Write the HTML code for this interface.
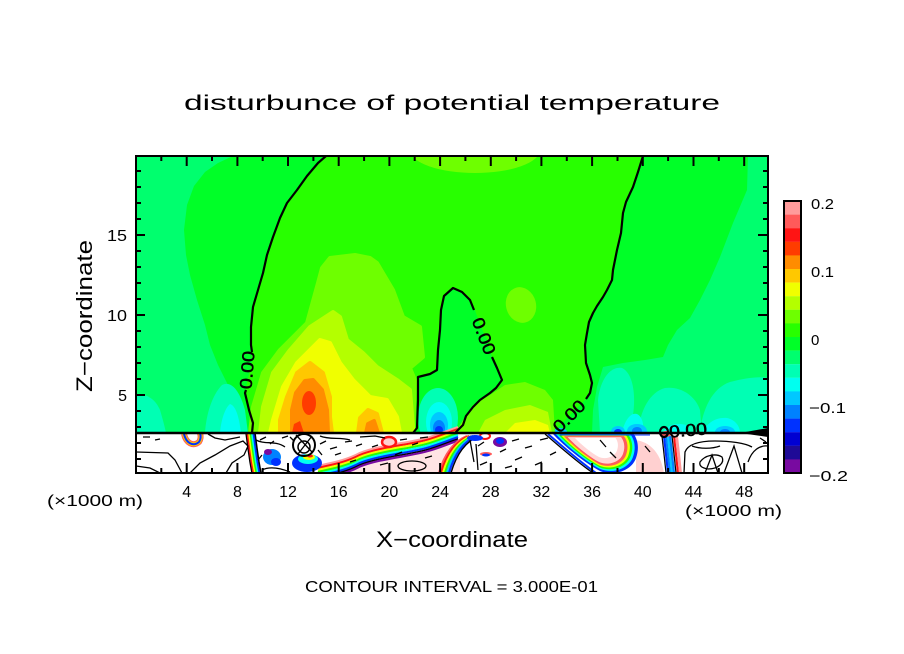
<!DOCTYPE html>
<html><head><meta charset="utf-8"><style>
html,body{margin:0;padding:0;background:#fff;}
svg{display:block;}
text{font-family:"Liberation Sans",sans-serif;fill:#000;}
</style></head><body>
<svg width="904" height="654" viewBox="0 0 904 654" xmlns="http://www.w3.org/2000/svg">
<rect width="904" height="654" fill="#fff"/>
<defs><clipPath id="pc"><rect x="136" y="156" width="632" height="317"/></clipPath></defs>
<g clip-path="url(#pc)">
<!-- base positive -->
<rect x="136" y="156" width="632" height="277" fill="#28FF00"/>
<!-- left negative -->
<path fill="#00FF28" d="M136,156 L326,156 L318,163 L307,176 L297,190 L287,203 L280,218 L273,237 L267,255 L263,273 L258,290 L253,307 L251,327 L251,345 L252,363 L248,378 L245,393 L249,410 L253,423 L252,433 L136,433 Z"/>
<path fill="#00FF6E" d="M136,156 L233,156 L218,163 L205,172 L194,186 L187,205 L184,230 L186,255 L190,275 L197,300 L205,325 L210,345 L218,365 L228,385 L238,405 L244,420 L246,433 L136,433 Z"/>
<path fill="#00FFB4" d="M136,395 C145,393 155,398 160,410 C163,420 165,428 166,433 L136,433 Z"/>
<path fill="#00FFB4" d="M205,433 C206,415 212,395 222,385 C232,380 240,392 245,410 L248,433 Z"/>
<path fill="#00FFF0" d="M220,433 C221,420 225,408 230,404 C236,406 239,417 241,433 Z"/>
<!-- right negative -->
<path fill="#00FF28" d="M643,156 L638,172 L633,187 L626,202 L623,213 L621,233 L617,250 L613,270 L612,280 L607,290 L603,297 L597,306 L593,313 L589,322 L587,333 L585,345 L586,363 L590,375 L592,383 L590,393 L584,401 L570,415 L560,425 L553,433 L768,433 L768,156 Z"/>
<path fill="#00FF6E" d="M748,156 L747,190 L733,223 L720,257 L710,280 L700,300 L690,318 L677,330 L668,345 L663,357 L645,360 L623,363 L603,367 L597,387 L593,410 L592,433 L768,433 L768,156 Z"/>
<path fill="#00FFB4" d="M600,433 L598,400 C600,380 610,366 622,368 C633,373 636,395 633,415 L630,433 Z"/>
<path fill="#00FFB4" d="M638,433 C640,410 650,392 665,388 C680,386 695,395 700,410 L702,433 Z"/>
<path fill="#00FFB4" d="M700,433 C702,410 712,388 730,382 C745,378 760,376 768,378 L768,433 Z"/>
<path fill="#00FFF0" d="M622,433 C624,422 630,412 637,414 C643,417 644,426 643,433 Z"/>
<path fill="#00FFF0" d="M702,433 C706,424 715,417 727,418 C736,420 740,427 740,433 Z"/>
<path fill="#00FFF0" d="M662,433 C666,426 675,422 686,425 L688,433 Z"/>
<ellipse cx="618" cy="432" rx="7" ry="6" fill="#00C8FF"/>
<ellipse cx="637" cy="431" rx="10" ry="7" fill="#00C8FF"/>
<ellipse cx="725" cy="432" rx="10" ry="6" fill="#00C8FF"/>
<ellipse cx="618" cy="432" rx="4" ry="3" fill="#0032FF"/>
<ellipse cx="637" cy="431" rx="5" ry="4" fill="#0082FF"/>
<ellipse cx="725" cy="432" rx="5" ry="3" fill="#0082FF"/>
<ellipse cx="560" cy="432" rx="7" ry="4" fill="#00C8FF"/>
<!-- loop negative -->
<path fill="#00FF28" d="M413,433 L417,428 L418,400 L418,377 L430,374 L437,370 L438,350 L440,330 L441,310 L444,296 L453,288 L462,292 L470,300 L475,310 L480,325 L487,340 L492,357 L497,368 L502,380 L496,388 L490,393 L480,400 L473,407 L466,416 L463,425 L455,433 Z"/>
<ellipse cx="438" cy="418" rx="20" ry="30" fill="#00FFB4"/>
<ellipse cx="439" cy="422" rx="13" ry="20" fill="#00FFF0"/>
<ellipse cx="439" cy="425" rx="9" ry="13" fill="#00C8FF"/>
<ellipse cx="439" cy="428" rx="6" ry="8" fill="#0082FF"/>
<ellipse cx="439" cy="430" rx="4" ry="4" fill="#0032FF"/>
<!-- positive features -->
<ellipse cx="475" cy="150" rx="65" ry="23" fill="#6EFF00"/>
<ellipse cx="521" cy="305" rx="15" ry="18" fill="#6EFF00" transform="rotate(-15 521 305)"/>
<g stroke-linejoin="round" stroke-width="4">
<path fill="#6EFF00" stroke="#6EFF00" d="M330,258 L355,255 L370,258 L377,263 L393,290 L403,317 L420,327 L423,357 L410,368 L415,380 L413,433 L250,433 L253,407 L263,373 L280,350 L307,323 L318,283 L322,268 Z"/>
<path fill="#B4FF00" stroke="#B4FF00" d="M333,312 L340,317 L347,340 L363,353 L377,367 L397,380 L410,390 L413,427 L413,433 L260,433 L263,407 L273,373 L290,350 L310,327 Z"/>
<path fill="#F0FF00" stroke="#F0FF00" d="M320,340 L330,343 L340,363 L353,380 L370,397 L387,400 L397,417 L400,433 L270,433 L273,420 L283,387 L297,363 Z"/>
<path fill="#FFC800" stroke="#FFC800" d="M310,363 L323,373 L330,397 L330,417 L332,433 L280,433 L280,420 L287,397 L297,373 Z"/>
<path fill="#FFC800" stroke="#FFC800" d="M358,433 L360,418 L368,410 L377,414 L382,433 Z"/>
<path fill="#FF8C00" stroke="#FF8C00" d="M305,381 L313,380 L322,390 L327,410 L328,433 L292,433 L292,410 L296,393 Z"/>
<path fill="#FF8C00" stroke="#FF8C00" d="M366,433 L368,424 L374,421 L378,433 Z"/>
</g>
<ellipse cx="309" cy="403" rx="7" ry="12" fill="#FF3C00"/>
<path fill="#FF3C00" d="M292,433 L294,424 L300,421 L304,433 Z"/>
<path fill="#6EFF00" d="M465,417 L473,405 L490,395 L505,385 L525,382 L545,390 L553,400 L555,433 L455,433 Z"/>
<path fill="#B4FF00" d="M478,433 L485,420 L505,410 L530,405 L548,412 L552,433 Z"/>
<path fill="#F0FF00" d="M505,433 L515,423 L535,420 L548,425 L550,433 Z"/>
<!-- lower band -->
<rect x="136" y="433" width="632" height="42" fill="#fff"/>
<path fill="#FFE4E4" d="M330,473 C350,468 380,458 420,452 C440,448 455,445 460,442 L460,473 Z"/>
<path fill="#FFD0D0" d="M636,440 C648,442 660,450 664,473 L636,473 Z"/>
<!-- band A -->
<g fill="none" stroke-width="2">
<path d="M249,433 L251,448 L253,462 L255,473" stroke="#000" transform="translate(-3,0)" stroke-width="1.5"/>
<path d="M249,433 L251,448 L253,462 L255,473" stroke="#FF1414" transform="translate(-1.5,0)"/>
<path d="M249,433 L251,448 L253,462 L255,473" stroke="#F0FF00" transform="translate(0,0)"/>
<path d="M249,433 L251,448 L253,462 L255,473" stroke="#28FF00" transform="translate(1.5,0)"/>
<path d="M249,433 L251,448 L253,462 L255,473" stroke="#00FFF0" transform="translate(3,0)"/>
<path d="M249,433 L251,448 L253,462 L255,473" stroke="#0032FF" transform="translate(4.5,0)"/>
<path d="M249,433 L251,448 L253,462 L255,473" stroke="#000" transform="translate(6,0)" stroke-width="1.5"/>
</g>
<!-- band B -->
<g fill="none">
<path d="M184,434 C186,443 193,447 199,442 C201,439 201,436 200,433" stroke="#FF5A5A" stroke-width="6"/>
<path d="M184,434 C186,443 193,447 199,442 C201,439 201,436 200,433" stroke="#FFC800" stroke-width="4"/>
<path d="M184,434 C186,443 193,447 199,442 C201,439 201,436 200,433" stroke="#0032FF" stroke-width="2"/>
</g>
<!-- band D -->
<g fill="none" stroke-width="2.2">
<path d="M318,473 C330,470 345,468 360,460 C380,452 410,450 430,444 C440,441 450,437 458,434" stroke="#FF9B9B" transform="translate(0,-7)"/>
<path d="M318,473 C330,470 345,468 360,460 C380,452 410,450 430,444 C440,441 450,437 458,434" stroke="#FF1414" transform="translate(0,-5)"/>
<path d="M318,473 C330,470 345,468 360,460 C380,452 410,450 430,444 C440,441 450,437 458,434" stroke="#F0FF00" transform="translate(0,-3)"/>
<path d="M318,473 C330,470 345,468 360,460 C380,452 410,450 430,444 C440,441 450,437 458,434" stroke="#28FF00" transform="translate(0,-1)"/>
<path d="M318,473 C330,470 345,468 360,460 C380,452 410,450 430,444 C440,441 450,437 458,434" stroke="#00FFF0" transform="translate(0,1)"/>
<path d="M318,473 C330,470 345,468 360,460 C380,452 410,450 430,444 C440,441 450,437 458,434" stroke="#0032FF" transform="translate(0,3)"/>
<path d="M318,473 C330,470 345,468 360,460 C380,452 410,450 430,444 C440,441 450,437 458,434" stroke="#000" stroke-width="1.5" transform="translate(0,4.8)"/>
<path d="M318,473 C330,470 345,468 360,460 C380,452 410,450 430,444 C440,441 450,437 458,434" stroke="#780AA0" transform="translate(0,6.5)"/>
</g>
<!-- band F -->
<g fill="none" stroke-width="2.2">
<path d="M472,436 C460,441 450,452 444,473" stroke="#FF5A5A" transform="translate(-5,0)"/>
<path d="M472,436 C460,441 450,452 444,473" stroke="#FF1414" transform="translate(-3,0)"/>
<path d="M472,436 C460,441 450,452 444,473" stroke="#F0FF00" transform="translate(-1,0)"/>
<path d="M472,436 C460,441 450,452 444,473" stroke="#28FF00" transform="translate(1,0)"/>
<path d="M472,436 C460,441 450,452 444,473" stroke="#00C8FF" transform="translate(3,0)"/>
<path d="M472,436 C460,441 450,452 444,473" stroke="#0032FF" transform="translate(5,0)"/>
<path d="M472,436 C460,441 450,452 444,473" stroke="#000" stroke-width="1.4" transform="translate(7,0)"/>
</g>
<!-- middle messy -->
<ellipse cx="272" cy="457" rx="9" ry="8" fill="#0082FF"/>
<ellipse cx="268" cy="452" rx="4" ry="3" fill="#780AA0"/>
<ellipse cx="276" cy="462" rx="5" ry="4" fill="#0032FF"/>
<ellipse cx="307" cy="463" rx="15" ry="9" fill="#0032FF"/>
<ellipse cx="308" cy="459" rx="10" ry="5" fill="#00FFF0"/>
<ellipse cx="309" cy="457" rx="6" ry="3" fill="#F0FF00"/>
<ellipse cx="310" cy="456" rx="3" ry="1.5" fill="#FF1414"/>
<ellipse cx="304" cy="445" rx="11" ry="11" fill="none" stroke="#000" stroke-width="2"/>
<ellipse cx="304" cy="447" rx="6" ry="6" fill="none" stroke="#000" stroke-width="1.5"/>
<path d="M296,435 L312,452 M312,436 L298,454" stroke="#000" stroke-width="1.3" fill="none"/>
<ellipse cx="389" cy="442" rx="7" ry="5" fill="#FFD0D0" stroke="#FF1414" stroke-width="2.5"/>
<ellipse cx="485" cy="436" rx="5" ry="3" fill="#fff" stroke="#FF1414" stroke-width="2"/>
<ellipse cx="500" cy="442" rx="7" ry="5" fill="#780AA0"/>
<ellipse cx="500" cy="441" rx="4" ry="3" fill="#0032FF"/>
<ellipse cx="475" cy="438" rx="8" ry="3" fill="#0032FF"/>
<ellipse cx="486" cy="454" rx="6" ry="2" fill="#FF5A5A"/>
<ellipse cx="486" cy="455" rx="4" ry="1.5" fill="#0032FF"/>
<!-- U tongue -->
<path fill="#0032FF" d="M552,433 C565,447 585,463 600,471 C615,477 632,470 636,458 C640,447 637,438 633,433 Z"/>
<path fill="#00FFF0" transform="translate(598,445) scale(0.92) translate(-598,-445)" d="M552,433 C565,447 585,463 600,471 C615,477 632,470 636,458 C640,447 637,438 633,433 Z"/>
<path fill="#28FF00" transform="translate(598,445) scale(0.86) translate(-598,-445)" d="M552,433 C565,447 585,463 600,471 C615,477 632,470 636,458 C640,447 637,438 633,433 Z"/>
<path fill="#F0FF00" transform="translate(598,445) scale(0.8) translate(-598,-445)" d="M552,433 C565,447 585,463 600,471 C615,477 632,470 636,458 C640,447 637,438 633,433 Z"/>
<path fill="#FF5A5A" transform="translate(598,445) scale(0.74) translate(-598,-445)" d="M552,433 C565,447 585,463 600,471 C615,477 632,470 636,458 C640,447 637,438 633,433 Z"/>
<path fill="#FFD6D6" transform="translate(598,445) scale(0.66) translate(-598,-445)" d="M552,433 C565,447 585,463 600,471 C615,477 632,470 636,458 C640,447 637,438 633,433 Z"/>
<path fill="#fff" transform="translate(598,443) scale(0.5) translate(-598,-443)" d="M552,433 C565,447 585,463 600,471 C615,477 632,470 636,458 C640,447 637,438 633,433 Z"/>
<path d="M548,434 C562,446 580,462 596,473" stroke="#0032FF" stroke-width="2" fill="none"/>
<path d="M545,434 C559,446 577,462 593,473" stroke="#000" stroke-width="1.2" fill="none"/>
<!-- band H -->
<g fill="none" stroke-width="2.2">
<path d="M668,436 L670,454 L672,473" stroke="#000" stroke-width="1.2" transform="translate(-6,0)"/>
<path d="M668,436 L670,454 L672,473" stroke="#0032FF" transform="translate(-4,0)"/>
<path d="M668,436 L670,454 L672,473" stroke="#0082FF" transform="translate(-2,0)"/>
<path d="M668,436 L670,454 L672,473" stroke="#00C8FF" transform="translate(0,0)"/>
<path d="M668,436 L670,454 L672,473" stroke="#0082FF" transform="translate(2,0)"/>
<path d="M668,436 L670,454 L672,473" stroke="#000" stroke-width="1.2" transform="translate(4,0)"/>
<path d="M668,436 L670,454 L672,473" stroke="#FF1414" transform="translate(6,0)"/>
<path d="M668,436 L670,454 L672,473" stroke="#FF9B9B" stroke-width="3" transform="translate(8.5,0)"/>
</g>
<ellipse cx="666" cy="434" rx="5" ry="3" fill="#FF5A5A"/>
<!-- black outlines -->
<g fill="none" stroke="#000" stroke-width="1.3">
<path d="M136,452 L168,453 L175,460 L182,473"/>
<path d="M190,473 L200,463 L215,455 L230,446 L243,441 L248,446 L244,455 L232,463 L226,473"/>
<path d="M208,434 L215,438 L225,440 L240,437"/>
<path d="M136,466 L150,468 L160,473"/>
<path d="M684,473 L685,452 C688,444 700,441 715,441 C730,441 745,443 752,447"/>
<path d="M705,473 L712,455 L718,473"/>
<path d="M724,473 L734,446 L742,473"/>
<path d="M748,462 C752,450 760,445 768,446"/>
<path d="M692,446 C700,449 712,449 720,446"/>
<path d="M700,462 C705,455 716,453 722,457 C725,463 718,469 708,469 C702,468 699,466 700,462 Z"/>
<path d="M256,440 C265,445 275,440 285,447"/>
<path d="M262,470 C270,466 280,468 290,472"/>
<path d="M320,436 C330,440 340,437 350,440"/>
<path d="M360,437 L375,436 L385,438"/>
<ellipse cx="412" cy="466" rx="14" ry="5"/>
<path d="M470,440 L474,462 M476,444 L478,470"/>
<path d="M260,440 L266,437 M270,444 L274,441 M262,455 L258,460 M282,438 L288,436 M320,444 L326,441 M330,449 L337,447 M345,442 L352,441 M356,446 L362,444 M335,455 L341,453 M372,447 L378,445 M400,440 L407,439 M412,445 L418,443 M420,438 L428,437 M350,462 L356,460 M380,465 L388,463 M425,458 L432,456 M478,446 L484,442 M500,452 L506,449 M512,441 L519,439 M525,448 L532,446 M540,440 L548,438 M515,460 L522,457 M535,465 L542,462 M480,465 L487,462 M550,455 L556,452 M143,437 L150,437 M155,440 L160,439 M600,440 L606,447 M610,452 L616,458 M645,446 L650,452 M760,438 L766,442 M290,437 L294,441 M318,450 L322,455 M395,455 L402,452 M505,468 L512,466"/>
</g>
<path d="M740,433 L768,428 L768,437 Z" fill="#000"/>
<line x1="136" y1="433" x2="768" y2="433" stroke="#000" stroke-width="2.5"/>
<line x1="560" y1="435" x2="650" y2="435" stroke="#0032FF" stroke-width="1"/>
<!-- contours -->
<g fill="none" stroke="#000" stroke-width="2.2" stroke-linejoin="round">
<path d="M326,156 L318,163 L307,176 L297,190 L287,203 L280,218 L273,237 L267,255 L263,273 L258,290 L253,307 L251,327 L251,345 L252,352"/>
<path d="M246,390 L245,393 L249,410 L253,423 L252,433"/>
<path d="M413,433 L417,428 L418,400 L418,377 L430,374 L437,370 L438,350 L440,330 L441,310 L444,296 L453,288 L462,292 L470,300 L474,310"/>
<path d="M492,357 L497,368 L502,380 L496,388 L490,393 L480,400 L473,407 L466,416 L463,425 L455,433"/>
<path d="M643,156 L638,172 L633,187 L626,202 L623,213 L621,233 L617,250 L613,270 L612,280 L607,290 L603,297 L597,306 L593,313 L589,322 L587,333 L585,345 L586,363 L590,375 L592,383 L590,393 L586,399"/>
<ellipse cx="664" cy="432" rx="4" ry="5"/>
</g>
<g font-size="17" stroke="#000" stroke-width="0.5">
<text transform="translate(247,370) rotate(-85)" text-anchor="middle" dy="6" textLength="38" lengthAdjust="spacingAndGlyphs">0.00</text>
<text transform="translate(484,336) rotate(69)" text-anchor="middle" dy="6" textLength="38" lengthAdjust="spacingAndGlyphs">0.00</text>
<text transform="translate(569,416) rotate(-45)" text-anchor="middle" dy="6" textLength="38" lengthAdjust="spacingAndGlyphs">0.00</text>
<text transform="translate(688,430) rotate(-5)" text-anchor="middle" dy="6" textLength="38" lengthAdjust="spacingAndGlyphs">0.00</text>
</g>
</g>
<!-- frame -->
<rect x="136" y="156" width="632" height="317" fill="none" stroke="#000" stroke-width="2"/>
<g stroke="#000" stroke-width="2" fill="none">
<path d="M186.7,156v10M237.4,156v10M288,156v10M338.7,156v10M389.4,156v10M440.1,156v10M490.8,156v10M541.4,156v10M592.1,156v10M642.8,156v10M693.5,156v10M744.2,156v10
M161.3,156v5M212,156v5M262.7,156v5M313.4,156v5M364.1,156v5M414.7,156v5M465.4,156v5M516.1,156v5M566.8,156v5M617.5,156v5M668.1,156v5M718.8,156v5
M186.7,473v-10M237.4,473v-10M288,473v-10M338.7,473v-10M389.4,473v-10M440.1,473v-10M490.8,473v-10M541.4,473v-10M592.1,473v-10M642.8,473v-10M693.5,473v-10M744.2,473v-10
M161.3,473v-5M212,473v-5M262.7,473v-5M313.4,473v-5M364.1,473v-5M414.7,473v-5M465.4,473v-5M516.1,473v-5M566.8,473v-5M617.5,473v-5M668.1,473v-5M718.8,473v-5
M136,395h9M136,315h9M136,235h9
M136,459h5M136,443h5M136,427h5M136,411h5M136,379h5M136,363h5M136,347h5M136,331h5M136,299h5M136,283h5M136,267h5M136,251h5M136,219h5M136,203h5M136,187h5M136,171h5
M768,395h-10M768,315h-10M768,235h-10
M768,459h-5M768,443h-5M768,427h-5M768,411h-5M768,379h-5M768,363h-5M768,347h-5M768,331h-5M768,299h-5M768,283h-5M768,267h-5M768,251h-5M768,219h-5M768,203h-5M768,187h-5M768,171h-5"/>
</g>
<!-- colorbar -->
<g>
<rect x="784" y="201" width="17" height="13.7" fill="#FF9B9B"/>
<rect x="784" y="214.6" width="17" height="13.7" fill="#FF5A5A"/>
<rect x="784" y="228.2" width="17" height="13.7" fill="#FF1414"/>
<rect x="784" y="241.8" width="17" height="13.7" fill="#FF3C00"/>
<rect x="784" y="255.4" width="17" height="13.7" fill="#FF8C00"/>
<rect x="784" y="269" width="17" height="13.7" fill="#FFC800"/>
<rect x="784" y="282.6" width="17" height="13.7" fill="#F0FF00"/>
<rect x="784" y="296.2" width="17" height="13.7" fill="#B4FF00"/>
<rect x="784" y="309.8" width="17" height="13.7" fill="#6EFF00"/>
<rect x="784" y="323.4" width="17" height="13.7" fill="#28FF00"/>
<rect x="784" y="337" width="17" height="13.7" fill="#00FF28"/>
<rect x="784" y="350.6" width="17" height="13.7" fill="#00FF6E"/>
<rect x="784" y="364.2" width="17" height="13.7" fill="#00FFB4"/>
<rect x="784" y="377.8" width="17" height="13.7" fill="#00FFF0"/>
<rect x="784" y="391.4" width="17" height="13.7" fill="#00C8FF"/>
<rect x="784" y="405" width="17" height="13.7" fill="#0082FF"/>
<rect x="784" y="418.6" width="17" height="13.7" fill="#0032FF"/>
<rect x="784" y="432.2" width="17" height="13.7" fill="#0000D2"/>
<rect x="784" y="445.8" width="17" height="13.7" fill="#1E0A96"/>
<rect x="784" y="459.4" width="17" height="13.6" fill="#780AA0"/>
<rect x="784" y="201" width="17" height="272" fill="none" stroke="#000" stroke-width="2"/>
</g>
<g font-size="15">
<text x="811" y="209" textLength="23" lengthAdjust="spacingAndGlyphs">0.2</text>
<text x="811" y="277" textLength="23" lengthAdjust="spacingAndGlyphs">0.1</text>
<text x="811" y="345">0</text>
<text x="809" y="413" textLength="37" lengthAdjust="spacingAndGlyphs">−0.1</text>
<text x="809" y="481" textLength="39" lengthAdjust="spacingAndGlyphs">−0.2</text>
</g>
<!-- tick labels -->
<g font-size="16" text-anchor="middle">
<text x="186.7" y="497">4</text>
<text x="237.4" y="497">8</text>
<text x="288" y="497">12</text>
<text x="338.7" y="497">16</text>
<text x="389.4" y="497">20</text>
<text x="440.1" y="497">24</text>
<text x="490.8" y="497">28</text>
<text x="541.4" y="497">32</text>
<text x="592.1" y="497">36</text>
<text x="642.8" y="497">40</text>
<text x="693.5" y="497">44</text>
<text x="744.2" y="497">48</text>
</g>
<g font-size="16" text-anchor="end">
<text x="127" y="401">5</text>
<text x="127" y="321" textLength="20" lengthAdjust="spacingAndGlyphs">10</text>
<text x="127" y="241" textLength="20" lengthAdjust="spacingAndGlyphs">15</text>
</g>
<text x="47" y="506" font-size="16" textLength="96" lengthAdjust="spacingAndGlyphs">(×1000 m)</text>
<text x="685" y="516" font-size="16" textLength="97" lengthAdjust="spacingAndGlyphs">(×1000 m)</text>
<text x="184" y="110" font-size="21" textLength="536" lengthAdjust="spacingAndGlyphs">disturbunce of potential temperature</text>
<text x="376" y="547" font-size="22" textLength="152" lengthAdjust="spacingAndGlyphs">X−coordinate</text>
<text transform="translate(92,392) rotate(-90)" font-size="22" textLength="152" lengthAdjust="spacingAndGlyphs">Z−coordinate</text>
<text x="305" y="592" font-size="16" textLength="293" lengthAdjust="spacingAndGlyphs">CONTOUR INTERVAL = 3.000E-01</text>
</svg>
</body></html>
